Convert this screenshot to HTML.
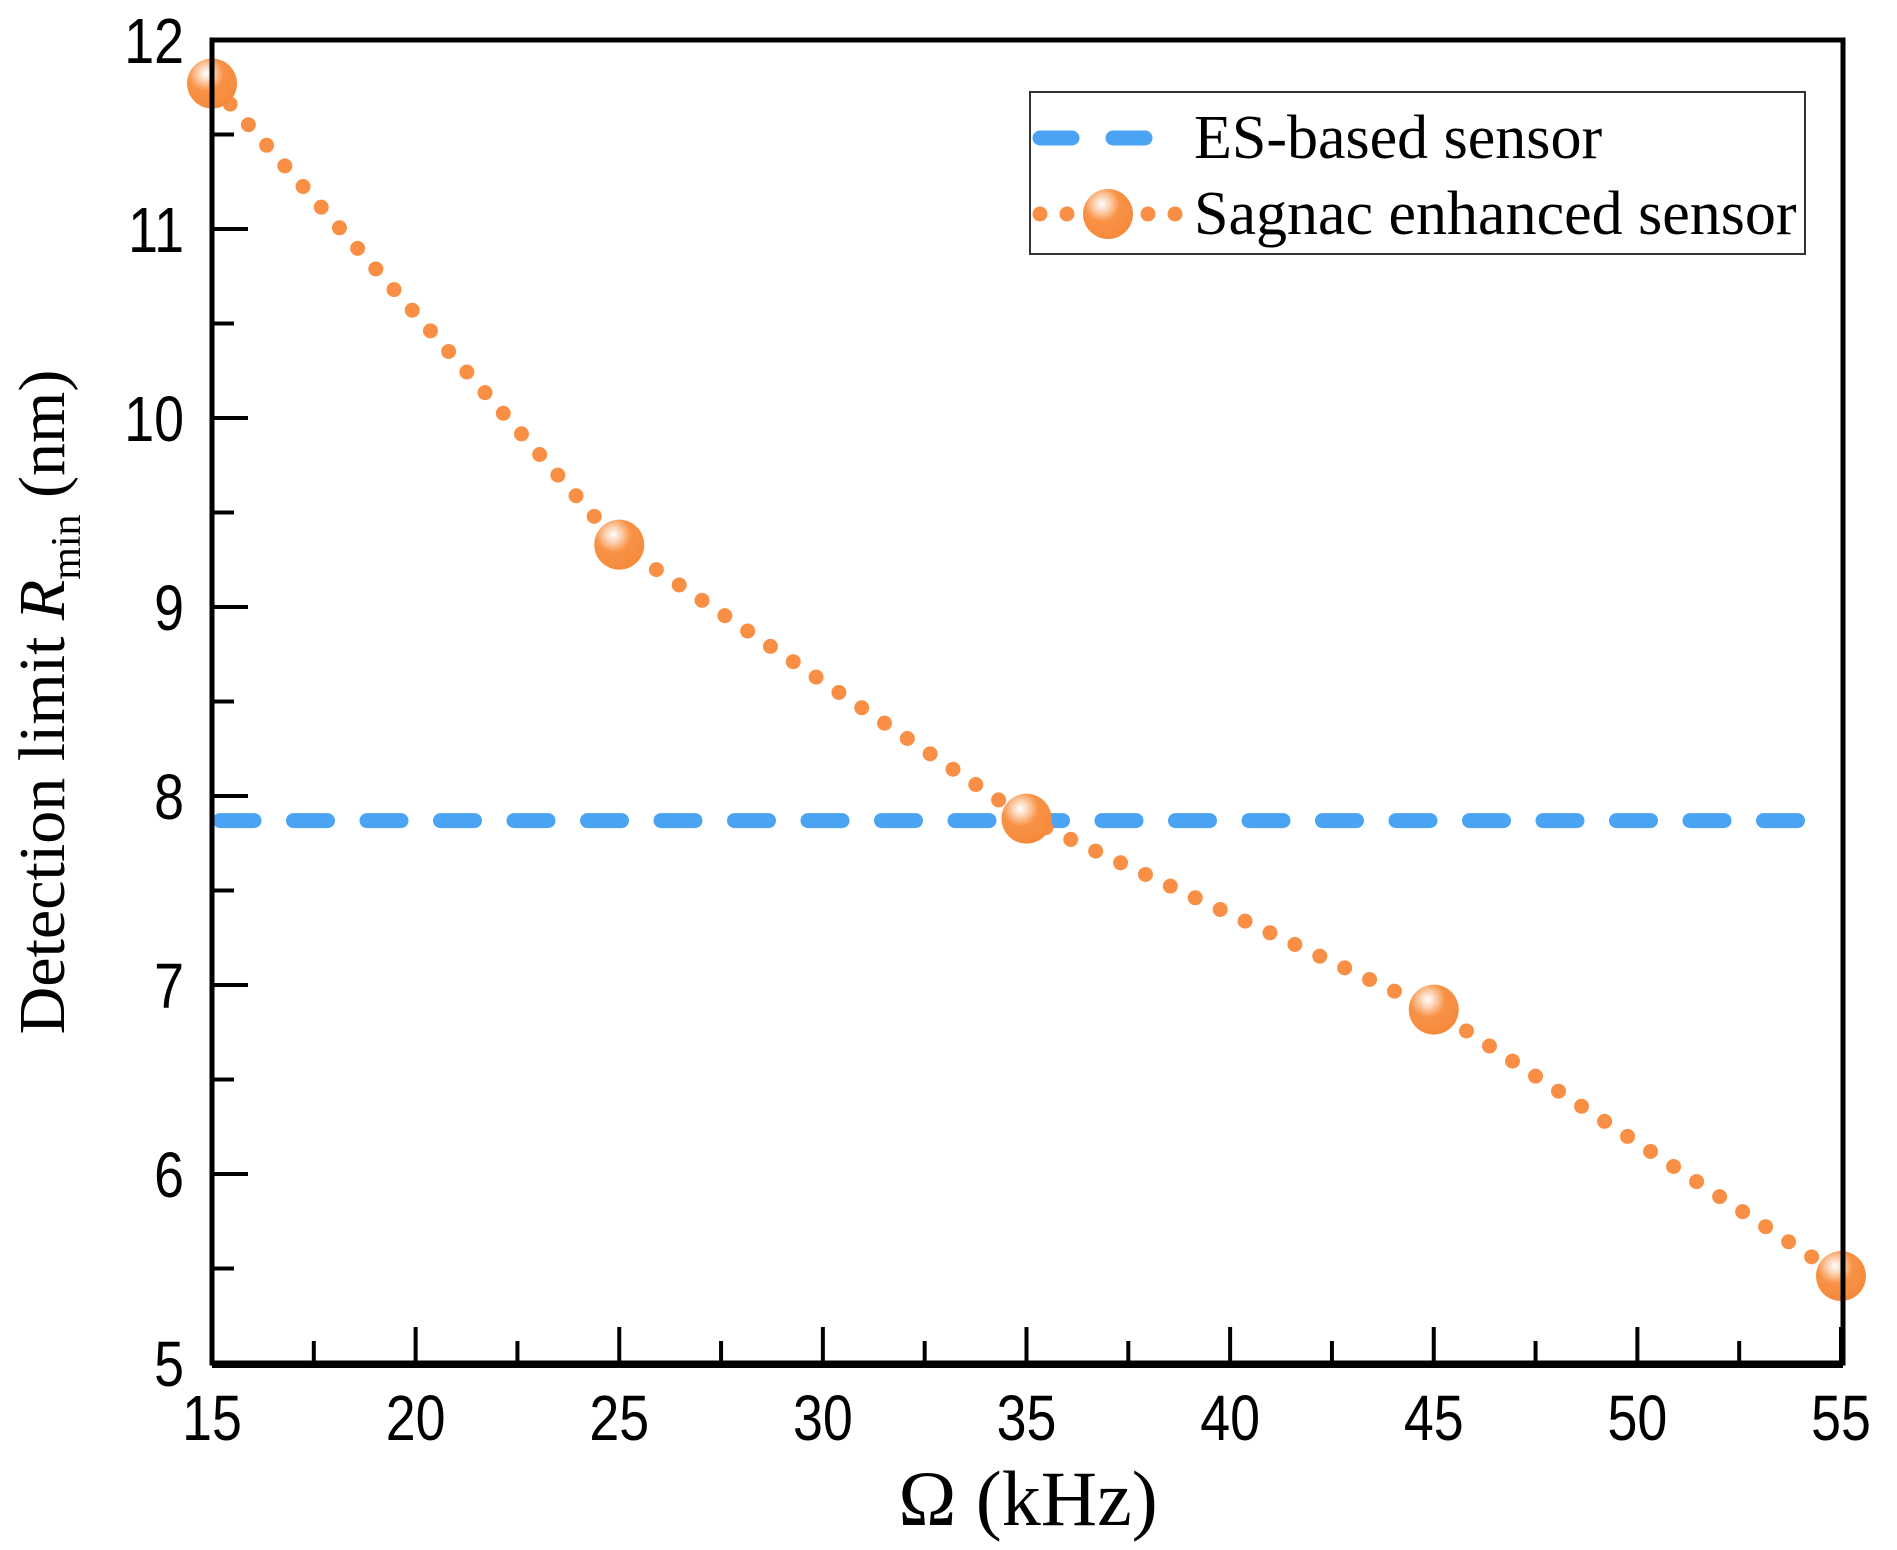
<!DOCTYPE html>
<html><head><meta charset="utf-8"><style>
html,body{margin:0;padding:0;background:#fff;}
svg{display:block;}
</style></head><body>
<svg id="chart" width="1897" height="1550" viewBox="0 0 1897 1550" xmlns="http://www.w3.org/2000/svg">
<defs>
<radialGradient id="ball" cx="0.38" cy="0.3" r="0.7">
<stop offset="0" stop-color="#ffffff"/>
<stop offset="0.22" stop-color="#fcd2b2"/>
<stop offset="0.5" stop-color="#f99246"/>
<stop offset="1" stop-color="#f58a3c"/>
</radialGradient>
</defs>
<g id="plot"></g>
</svg>
<script>
const xTicks = [15, 20, 25, 30, 35, 40, 45, 50, 55];
const yTicks = [5, 6, 7, 8, 9, 10, 11, 12];
const sagnacX = [15, 25, 35, 45, 55];
const sagnacY = [11.77, 9.33, 7.88, 6.87, 5.46];
const esValue = [7.87];

const X0 = 212, X1 = 1841, Y0 = 1363, Y1 = 40;
function sx(v){ return X0 + (v - 15) / 40 * (X1 - X0); }
function sy(v){ return Y0 - (v - 5) / 7 * (Y0 - Y1); }
const NS = 'http://www.w3.org/2000/svg';
const g = document.getElementById('plot');
function mk(tag, attrs, parent){
  const e = document.createElementNS(NS, tag);
  for (const k in attrs) e.setAttribute(k, attrs[k]);
  (parent || g).appendChild(e);
  return e;
}

// ES line
const es = mk('line', {x1: sx(15) + 8, x2: sx(54.25), y1: sy(esValue[0]), y2: sy(esValue[0]), stroke: '#4ba3f3', 'stroke-width': 15, 'stroke-linecap': 'round', 'stroke-dasharray': '34 39.5'});



// Sagnac dotted line
let d = '';
sagnacX.forEach((x, i) => { d += (i ? 'L' : 'M') + sx(x) + ' ' + sy(sagnacY[i]); });
const sl = mk('path', {d: d, fill: 'none', stroke: '#f98f45', 'stroke-width': 15, 'stroke-linecap': 'round', 'stroke-dasharray': '0 27.5'});



sagnacX.forEach((x, i) => {
  const c = mk('circle', {cx: sx(x), cy: sy(sagnacY[i]), r: 25, fill: 'url(#ball)'});
  
  
});

// axes frame
const ax = mk('path', {d: `M${X0} ${Y1} L${X0} ${Y0} L${X1+2} ${Y0} L${X1+2} ${Y1} Z`, fill: 'none', stroke: '#000', 'stroke-width': 5});


const bx = mk('line', {x1: X0, x2: X1 + 2, y1: Y0 + 2, y2: Y0 + 2, stroke: '#000', 'stroke-width': 6});



// x ticks
for (let v = 15; v <= 55; v += 2.5) {
  const major = (v % 5 === 0);
  const t = mk('line', {x1: sx(v), x2: sx(v), y1: Y0, y2: Y0 - (major ? 36 : 22), stroke: '#000', 'stroke-width': 4});
  
  
}
xTicks.forEach(v => {
  const t = mk('text', {transform: `translate(${sx(v)},1440) scale(0.84,1)`, 'text-anchor': 'middle', 'font-family': 'Liberation Sans, Arial, sans-serif', 'font-size': 64});
  t.textContent = v;
  
  
});
// y ticks
for (let v = 5; v <= 12; v += 0.5) {
  const major = (v % 1 === 0);
  const t = mk('line', {x1: X0, x2: X0 + (major ? 36 : 22), y1: sy(v), y2: sy(v), stroke: '#000', 'stroke-width': 4});
  
  
}
yTicks.forEach(v => {
  const t = mk('text', {transform: `translate(184,${sy(v) + 23}) scale(0.84,1)`, 'text-anchor': 'end', 'font-family': 'Liberation Sans, Arial, sans-serif', 'font-size': 64});
  t.textContent = v;
  
  
});

// axis titles
const xt = mk('text', {x: 1028, y: 1525, 'text-anchor': 'middle', 'font-family': 'Liberation Serif, Times New Roman, serif', 'font-size': 78});
xt.textContent = 'Ω (kHz)';



const yt = mk('text', {transform: 'translate(64,702) rotate(-90)', 'text-anchor': 'middle', 'font-family': 'Liberation Serif, Times New Roman, serif', 'font-size': 66});
yt.innerHTML = 'Detection limit <tspan font-style="italic">R</tspan><tspan font-size="42" dy="16">min</tspan><tspan dy="-16"> (nm)</tspan>';



// legend
const lg = mk('g', {});


mk('rect', {x: 1030, y: 92, width: 775, height: 162, fill: '#fff', stroke: '#333', 'stroke-width': 2}, lg);
const l1 = mk('line', {x1: 1040, x2: 1178, y1: 138, y2: 138, stroke: '#4ba3f3', 'stroke-width': 15, 'stroke-linecap': 'round', 'stroke-dasharray': '32 41'}, lg);


const t1 = mk('text', {x: 1194, y: 158, 'font-family': 'Liberation Serif, Times New Roman, serif', 'font-size': 62}, lg);
t1.textContent = 'ES-based sensor';
const l2 = mk('line', {x1: 1040, x2: 1176, y1: 214, y2: 214, stroke: '#f98f45', 'stroke-width': 15, 'stroke-linecap': 'round', 'stroke-dasharray': '0 27'}, lg);


mk('circle', {cx: 1108, cy: 214, r: 25, fill: 'url(#ball)'}, lg);
const t2 = mk('text', {x: 1194, y: 234, 'font-family': 'Liberation Serif, Times New Roman, serif', 'font-size': 62}, lg);
t2.textContent = 'Sagnac enhanced sensor';
</script>
</body></html>
